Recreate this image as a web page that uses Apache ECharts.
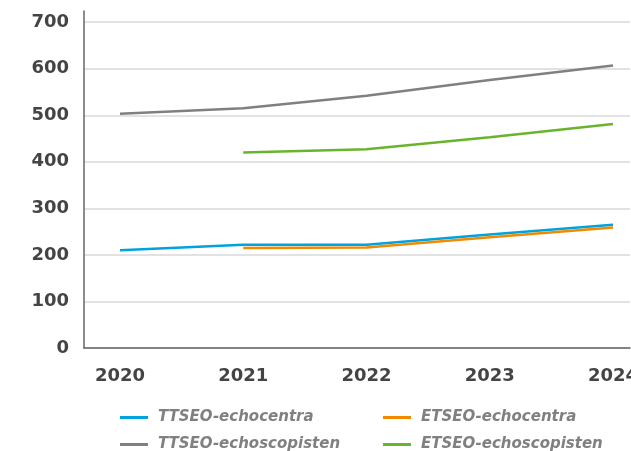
<!DOCTYPE html>
<html>
<head>
<meta charset="utf-8">
<script src="https://cdn.jsdelivr.net/npm/echarts@6/dist/echarts.min.js"></script>
<style>html,body{margin:0;padding:0;background:#fff;}</style>
</head>
<body>
<div id="main" style="width:631px;height:451px;"></div>
<script type="text/javascript">
    // jaren en waarden
    var jaren = [2020, 2021, 2022, 2023, 2024];
    var ttseoCentra = [210, 222, 222, 244, 265];
    var etseoCentra = [null, 215, 216, 238, 259];
    var ttseoScopisten = [503, 515, 542, 576, 607];
    var etseoScopisten = [null, 420, 427, 453, 481];
    var yTicks = [0, 100, 200, 300, 400, 500, 600, 700];

    // paren [jaar, waarde] voor de value-as
    function paren(arr) {
        var out = [];
        for (var i = 0; i < jaren.length; i++) {
            if (arr[i] !== null) out.push([jaren[i], arr[i]]);
        }
        return out;
    }

    var myChart = echarts.init(document.getElementById('main'));
    var font = 'DejaVu Sans, Verdana, sans-serif';
    var legendText = { color: '#808080', fontStyle: 'italic', fontWeight: 'bold', fontSize: 15, fontFamily: font, padding: [0, 0, 0, 5] };

    // één legenda per item, zodat de twee kolommen vast staan
    function legenda(naam, x, y) {
        return {
            data: [naam], left: x, top: y, itemWidth: 28, itemHeight: 3, itemGap: 0,
            icon: 'rect', padding: 0, textStyle: legendText
        };
    }

    var option = {
        animation: false,
        grid: { left: 84, right: 1, top: 11, bottom: 103, outerBoundsMode: 'none', containLabel: false },
        legend: [
            legenda('TTSEO-echocentra', 120, 410),
            legenda('TTSEO-echoscopisten', 120, 437),
            legenda('ETSEO-echocentra', 383, 410),
            legenda('ETSEO-echoscopisten', 383, 437)
        ],
        xAxis: {
            type: 'value',
            min: 2019.708, max: 2024.138,
            axisLine: { show: true, lineStyle: { color: '#666', width: 1.5 } },
            axisTick: { show: false },
            splitLine: { show: false },
            axisLabel: {
                customValues: jaren,
                formatter: function (v) { return String(v); },
                color: '#444', fontWeight: 'bold', fontSize: 18, fontFamily: font, margin: 19
            }
        },
        yAxis: {
            type: 'value',
            min: 0, max: 724,
            axisLine: { show: true, lineStyle: { color: '#666', width: 1.5 } },
            axisTick: { show: false },
            splitLine: { show: true, showMaxLine: false, lineStyle: { color: '#d9d9d9', width: 1.5 } },
            axisLabel: {
                customValues: yTicks,
                color: '#444', fontWeight: 'bold', fontSize: 18, fontFamily: font, margin: 15
            }
        },
        series: [
            { name: 'TTSEO-echocentra', type: 'line', data: paren(ttseoCentra), showSymbol: false, lineStyle: { color: '#00a3dd', width: 2.5 }, itemStyle: { color: '#00a3dd' } },
            { name: 'ETSEO-echocentra', type: 'line', data: paren(etseoCentra), showSymbol: false, lineStyle: { color: '#f18a00', width: 2.5 }, itemStyle: { color: '#f18a00' } },
            { name: 'TTSEO-echoscopisten', type: 'line', data: paren(ttseoScopisten), showSymbol: false, lineStyle: { color: '#808080', width: 2.5 }, itemStyle: { color: '#808080' } },
            { name: 'ETSEO-echoscopisten', type: 'line', data: paren(etseoScopisten), showSymbol: false, lineStyle: { color: '#6ab42d', width: 2.5 }, itemStyle: { color: '#6ab42d' } }
        ]
    };
    myChart.setOption(option);
</script>
</body>
</html>
